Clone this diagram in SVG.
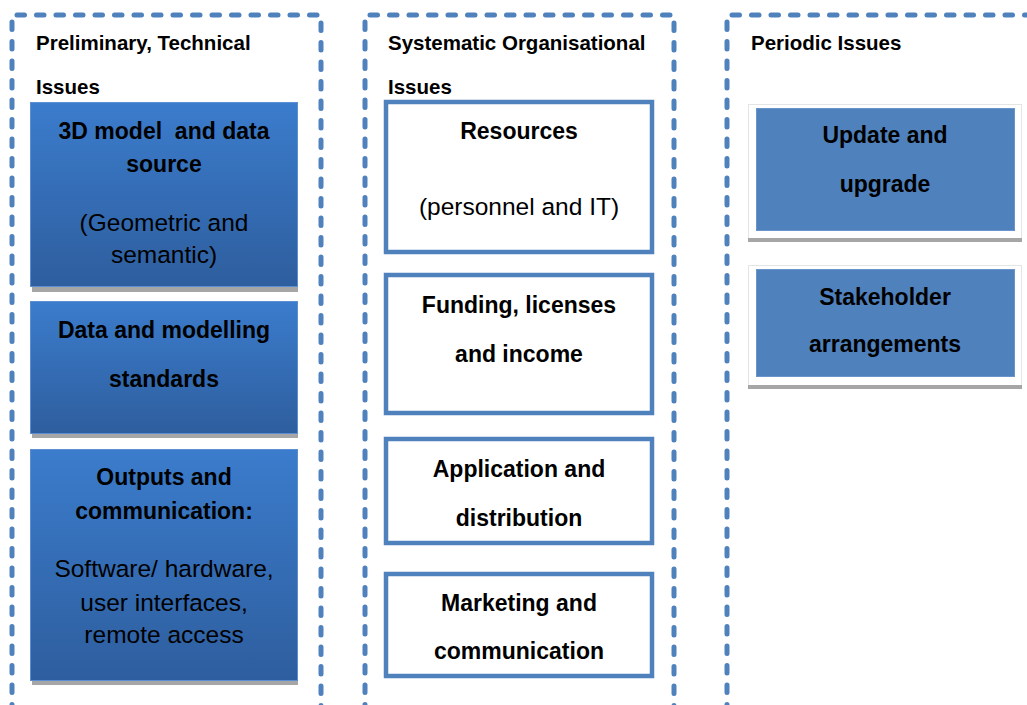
<svg xmlns="http://www.w3.org/2000/svg" width="1027" height="705" viewBox="0 0 1027 705">
<defs>
<linearGradient id="gblue" x1="0" y1="0" x2="0" y2="1">
<stop offset="0" stop-color="#3b7ccc"/>
<stop offset="1" stop-color="#2e5e9e"/>
</linearGradient>
<style>
.dash{fill:none;stroke:#4f81bd;stroke-width:5;stroke-dasharray:7.5 12;stroke-linecap:round}
.hd{font-family:"Liberation Sans",Arial,sans-serif;font-weight:bold;font-size:20.5px;fill:#000}
.t{font-family:"Liberation Sans",Arial,sans-serif;font-weight:bold;font-size:23px;fill:#000;text-anchor:middle;white-space:pre}
.r{font-family:"Liberation Sans",Arial,sans-serif;font-size:24.5px;fill:#000;text-anchor:middle}
.gb{fill:url(#gblue);stroke:#5b8fd2;stroke-width:1}
.sh{fill:#a6a6a6}
.wb{fill:#fff;stroke:#4f81bd;stroke-width:4.5}
.card{fill:#fff;stroke:#e4e4e4;stroke-width:1}
.pb{fill:#4f81bd;stroke:#6a95cc;stroke-width:1}
</style>
</defs>
<rect width="1027" height="705" fill="#fff"/>

<g id="col-technical">
<path class="dash" d="M12,712 L12,15 L321,15 L321,712"/>
<text class="hd" x="36" y="50">Preliminary, Technical</text>
<text class="hd" x="36" y="94">Issues</text>
</g>
<g id="col-organisational">
<path class="dash" d="M365,712 L365,15 L674,15 L674,712"/>
<text class="hd" x="388" y="50">Systematic Organisational</text>
<text class="hd" x="388" y="94">Issues</text>
</g>
<g id="col-periodic">
<path class="dash" d="M727,712 L727,15 L1040,15"/>
<text class="hd" x="751" y="50">Periodic Issues</text>
</g>

<g id="node-3d-model">
<rect class="sh" x="32" y="287" width="266" height="5"/>
<rect class="gb" x="30.5" y="102.5" width="267" height="184"/>
<text class="t" x="164" y="139" xml:space="preserve">3D model  and data</text>
<text class="t" x="164" y="172">source</text>
<text class="r" x="164" y="231">(Geometric and</text>
<text class="r" x="164" y="263">semantic)</text>
</g>
<g id="node-standards">
<rect class="sh" x="32" y="434" width="266" height="4"/>
<rect class="gb" x="30.5" y="301.5" width="267" height="132"/>
<text class="t" x="164" y="338">Data and modelling</text>
<text class="t" x="164" y="387">standards</text>
</g>
<g id="node-outputs">
<rect class="sh" x="32" y="681" width="266" height="4"/>
<rect class="gb" x="30.5" y="449.5" width="267" height="231"/>
<text class="t" x="164" y="485">Outputs and</text>
<text class="t" x="164" y="519">communication:</text>
<text class="r" x="164" y="577">Software/ hardware,</text>
<text class="r" x="164" y="611">user interfaces,</text>
<text class="r" x="164" y="643">remote access</text>
</g>

<g id="node-resources">
<rect class="wb" x="386" y="102" width="266" height="150"/>
<text class="t" x="519" y="139">Resources</text>
<text class="r" x="519" y="215">(personnel and IT)</text>
</g>
<g id="node-funding">
<rect class="wb" x="386" y="275" width="266" height="138"/>
<text class="t" x="519" y="313">Funding, licenses</text>
<text class="t" x="519" y="362">and income</text>
</g>
<g id="node-application">
<rect class="wb" x="386" y="439" width="266" height="104"/>
<text class="t" x="519" y="477">Application and</text>
<text class="t" x="519" y="526">distribution</text>
</g>
<g id="node-marketing">
<rect class="wb" x="386" y="574" width="266" height="102"/>
<text class="t" x="519" y="611">Marketing and</text>
<text class="t" x="519" y="659">communication</text>
</g>

<g id="node-update">
<rect class="card" x="748.5" y="104.5" width="273" height="134"/>
<rect class="sh" x="748" y="238" width="274" height="4"/>
<rect class="pb" x="756.5" y="108.5" width="258" height="122"/>
<text class="t" x="885" y="143">Update and</text>
<text class="t" x="885" y="192">upgrade</text>
</g>
<g id="node-stakeholder">
<rect class="card" x="748.5" y="265.5" width="273" height="120"/>
<rect class="sh" x="748" y="385" width="274" height="4"/>
<rect class="pb" x="756.5" y="269.5" width="258" height="107"/>
<text class="t" x="885" y="305">Stakeholder</text>
<text class="t" x="885" y="352">arrangements</text>
</g>

<g id="connectors"/>
</svg>
